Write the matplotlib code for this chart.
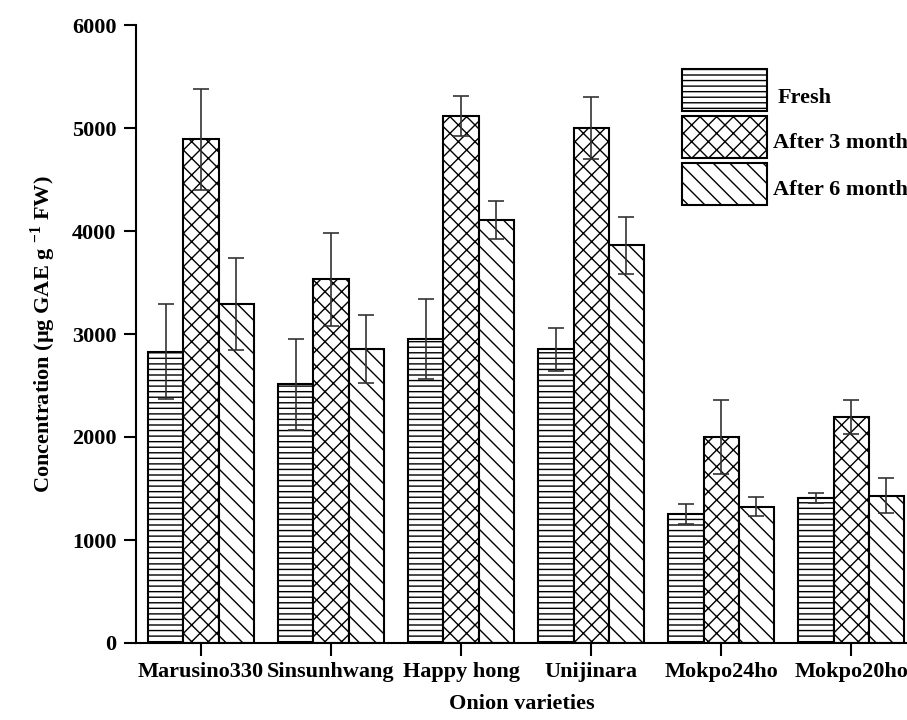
import matplotlib
matplotlib.use("Agg")
import matplotlib.pyplot as plt
from matplotlib.patches import Rectangle
import numpy as np

varieties = ["Marusino330", "Sinsunhwang", "Happy hong", "Unijinara", "Mokpo24ho", "Mokpo20ho"]
series = ["Fresh", "After 3 months", "After 6 months"]

fresh = [2830, 2510, 2950, 2850, 1250, 1405]
fresh_err = [460, 443, 390, 212, 95, 47]
month3 = [4890, 3530, 5117, 5000, 2000, 2192]
month3_err = [490, 450, 197, 302, 355, 167]
month6 = [3290, 2850, 4106, 3862, 1325, 1430]
month6_err = [445, 330, 185, 276, 90, 172]

plt.rcParams['font.family'] = ['Liberation Serif', 'DejaVu Serif']
plt.rcParams['font.weight'] = 'bold'
plt.rcParams['font.size'] = 16
plt.rcParams['mathtext.fontset'] = 'custom'
plt.rcParams['mathtext.rm'] = 'Liberation Serif:bold'
plt.rcParams['mathtext.bf'] = 'Liberation Serif:bold'
plt.rcParams['hatch.linewidth'] = 1.0

W, H = 907, 720
fig = plt.figure(figsize=(W / 100, H / 100), dpi=100)
ax = fig.add_axes([136 / W, 77 / H, (W - 136) / W, 618 / H])

x = np.arange(len(varieties))
bw = 0.27
hatches = ['---', 'xx', '\\\\']
vals = [fresh, month3, month6]
errs = [fresh_err, month3_err, month6_err]

for i in range(3):
    pos = x + (i - 1) * bw
    ax.bar(pos, vals[i], bw, color='white', edgecolor='black', linewidth=1.5,
           hatch=hatches[i], zorder=2)
    ax.errorbar(pos, vals[i], yerr=errs[i], fmt='none', ecolor='#333333',
                elinewidth=1.2, capsize=6, capthick=1.2, zorder=3)

ax.set_xlim(-0.5, 5.43)
ax.set_ylim(0, 6000)
ax.set_yticks(np.arange(0, 6001, 1000))
ax.set_xticks(x)
ax.set_xticklabels(varieties)
for s in ['top', 'right']:
    ax.spines[s].set_visible(False)
for s in ['left', 'bottom']:
    ax.spines[s].set_linewidth(1.5)
ax.tick_params(axis='both', direction='out', length=9, width=1.5, pad=5, labelsize=16)

ax.set_xlabel("Onion varieties", fontsize=16, fontweight='bold', labelpad=8)
ax.set_ylabel(r"Concentration (µg GAE g $^{\mathbf{-1}}$ FW)", fontsize=16,
              fontweight='bold', labelpad=10)

# legend drawn by hand
boxes = [(682, 69, 767, 111), (682, 116, 767, 158), (682, 163, 767, 205)]
text_pos = [(778, 98), (773, 143), (773, 190)]
for i in range(3):
    x0, y0, x1, y1 = boxes[i]
    r = Rectangle((x0 / W, 1 - y1 / H), (x1 - x0) / W, (y1 - y0) / H,
                  transform=fig.transFigure, facecolor='white', edgecolor='black',
                  linewidth=1.5, hatch=hatches[i])
    fig.add_artist(r)
    tx, ty = text_pos[i]
    fig.text(tx / W, 1 - ty / H, series[i], fontsize=16, fontweight='bold',
             va='center', ha='left')

fig.savefig("out.png", dpi=100)
